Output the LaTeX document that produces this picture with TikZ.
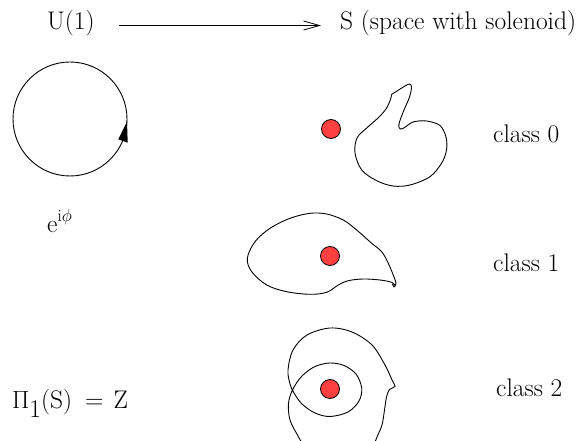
\documentclass[tikz,border=0pt]{standalone}
\usetikzlibrary{arrows.meta}
\definecolor{dotred}{RGB}{255,64,64}
\begin{document}
\begin{tikzpicture}[x=1pt,y=-1pt,
  lbl/.style={anchor=base west,inner sep=0pt,font=\fontsize{25.5}{30}\selectfont},
  curve/.style={line width=0.9pt,line join=round},
  solenoid/.style={circle,draw=black,line width=0.8pt,fill=dotred,minimum size=19pt,inner sep=0pt},
  maparrow/.style={line width=0.8pt,-{Straight Barb[length=16pt,width=9pt,line width=0.8pt]}}]
\useasboundingbox (0,0) rectangle (587,441);
\clip (0,0) rectangle (587,441);
% top line
\node[lbl] (U) at (47,30) {U(1)};
\node[lbl] (S) at (340,30) {S (space with solenoid)};
\coordinate (a1) at (119,25.5);
\coordinate (a2) at (321,25.5);
\draw[maparrow] (a1) -- (a2);
% U(1) circle with arrow
\coordinate (cc) at (70,119);
\draw[line width=0.9pt] (cc) circle[radius=57pt];
\fill (127,121.5) -- (118.3,139.3) -- (127.7,142.7) -- cycle;
\node[lbl] (e) at (47,233) {e\raisebox{11pt}{\fontsize{17}{20}\selectfont i$\phi$}};
% Pi_1
\node[lbl] (pi) at (12,408) {$\Pi$\raisebox{-9pt}{1}(S)\hspace{13pt}=\hspace{10pt}Z};
% class labels
\node[lbl] (c0) at (493,143) {class 0};
\node[lbl] (c1) at (493,271.5) {class 1};
\node[lbl] (c2) at (496,396.7) {class 2};
% class 0
\draw[curve] plot[smooth,tension=0.55] coordinates {(391.7,94.3) (396.7,91.2) (405,86) (409.5,84) (411.5,87) (409.5,97) (404,110) (399.5,122) (399,127.5) (402,129) (408,125) (414,121.7) (426.7,121) (440,125.5) (446,137) (446.5,150) (441.7,163) (430,176.7) (410,185) (393,186) (376.7,180.7) (361.7,170) (355,153) (357,138) (366.7,128) (378,118) (386,109) (390.3,100) (391.7,94.3)};
\node[solenoid] (d0) at (331,129) {};
% class 1
\draw[curve] plot[smooth,tension=0.55] coordinates {(392.5,284) (394,287) (396,283.5) (394,277) (388.3,263.3) (381.7,251.7) (371.7,243.3) (356.7,230) (343.3,220) (326.7,214) (310,213.3) (290,218.3) (270,228.3) (255,241.7) (247.3,258.3) (251.7,271.7) (266.7,285) (286.7,291.7) (310,294.3) (326.7,292.3) (338.3,285) (348.3,280.7) (363.3,279) (380,280) (391.7,282.3) (395,285.5)};
\node[solenoid] (d1) at (330,256) {};
% class 2
\draw[curve] plot[smooth,tension=0.55] coordinates {(372,450) (377,437) (382,425) (384.5,410) (386.5,397) (389.5,389.5) (395,386.5) (392.5,381) (385,365) (372,345) (352,332) (330,328) (307,335) (293,350) (288,370) (290,384) (294,393) (302,404) (315,413) (330,416.5) (348,412) (359,401) (361.7,388) (356,374) (344,365.5) (330,363) (315,366.5) (302,376) (293,389) (288.5,403) (290,420) (298,436) (306,450)};
\node[solenoid] (d2) at (330,389) {};
\end{tikzpicture}
\end{document}
